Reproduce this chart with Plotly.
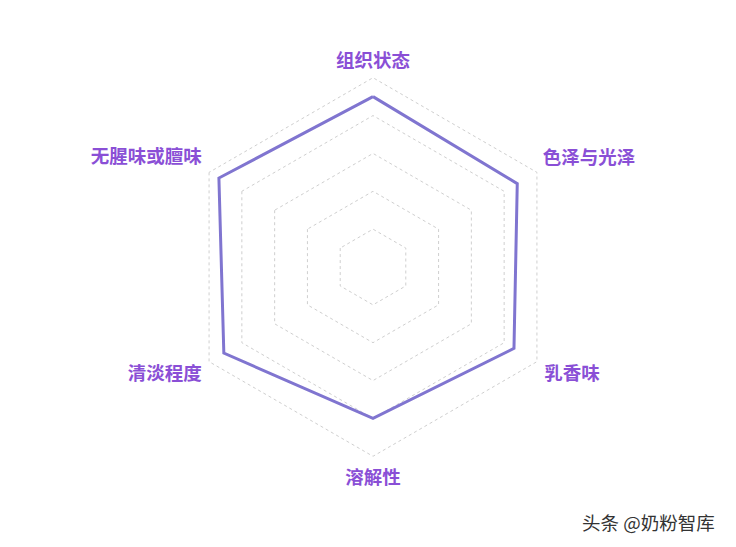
import plotly.graph_objects as go

# radar categories, clockwise from the top
categories = ['组织状态', '色泽与光泽', '乳香味', '溶解性', '清淡程度', '无腥味或膻味']
scores = [90, 88, 86, 80, 91, 94]
ring_values = [20, 40, 60, 80, 100]

# close the polygon
theta = categories + categories[:1]
r = scores + scores[:1]

# label placement just outside the outer ring
label_r = [108, 103.5, 104.5, 107.5, 104.5, 104.5]
label_pos = ['middle center', 'top right', 'bottom right', 'bottom center', 'bottom left', 'top left']

fig = go.Figure()
fig.add_trace(go.Scatterpolar(
    r=r, theta=theta, mode='lines',
    line=dict(color='#8075d0', width=3),
    showlegend=False, hoverinfo='skip'
))
fig.add_trace(go.Scatterpolar(
    r=label_r, theta=categories, mode='text',
    text=categories, textposition=label_pos,
    textfont=dict(size=18.5, color='#8a4fd6', weight='bold', family='Noto Sans CJK SC'),
    cliponaxis=False, showlegend=False, hoverinfo='skip'
))

fig.update_layout(
    width=736, height=547,
    paper_bgcolor='white',
    margin=dict(l=153, r=159, t=47, b=76, autoexpand=False),
    font=dict(family='Noto Sans CJK SC'),
    polar=dict(
        bgcolor='white',
        gridshape='linear',
        radialaxis=dict(
            range=[0, 112], tickvals=ring_values, showticklabels=False,
            ticks='', showline=False,
            gridcolor='#cfcfcf', gridwidth=1, griddash='3px,3px',
        ),
        angularaxis=dict(
            rotation=90, direction='clockwise',
            showgrid=False, showline=False, ticks='', showticklabels=False,
        ),
    ),
)

fig.add_annotation(
    text='头条 @奶粉智库', xref='paper', yref='paper',
    x=1, y=0, xanchor='right', yanchor='middle', showarrow=False,
    xshift=132, yshift=-43,
    font=dict(size=18.5, color='#333333', family='Noto Sans CJK SC'),
)

fig.write_html("out.html")
